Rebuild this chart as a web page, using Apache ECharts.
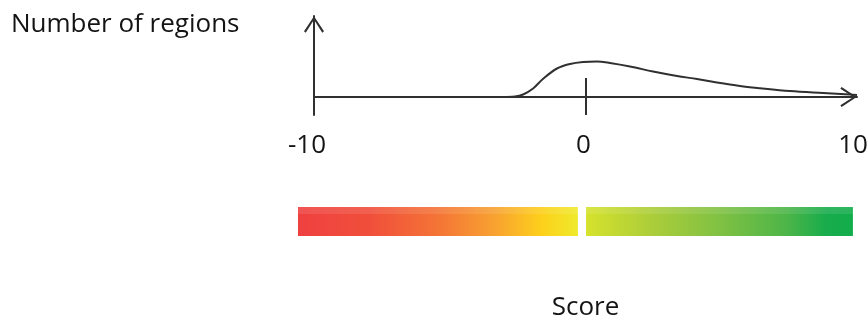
<!DOCTYPE html>
<html>
<head>
<meta charset="utf-8">
<script src="https://cdn.jsdelivr.net/npm/echarts@6/dist/echarts.min.js"></script>
<style>html,body{margin:0;padding:0;background:#fff;}#c{width:868px;height:320px;}</style>
</head>
<body>
<div id="c"></div>
<script>
// Distribution curve: score vs. relative number of regions
const curveScores = [-3.05, -2.6, -2.3, -1.93, -1.57, -1.05, -0.57, -0.09, 0.42, 0.9, 1.64, 2.49, 3.37, 4.11, 4.84, 5.69, 6.43, 7.53, 8.75, 9.74, 10];
const curveCounts = [0, 0.5, 2.5, 8.5, 18, 28.5, 33, 35, 35.5, 34, 30.5, 25.5, 21, 18, 14.5, 11, 8.8, 6, 4, 2.5, 2];
const tickLabels = ['-10', '0', '10'];
const tickLabelStyles = ['lo', 'mid', 'hi'];
// Colour scale segments: [start score, end score]
const scaleStarts = [-10.59, 0.02];
const scaleEnds = [-0.28, 9.85];
const scaleStopOffsets = [
  [0, 0.25, 0.5, 0.7, 0.87, 1],
  [0, 0.25, 0.5, 0.75, 0.9, 1]
];
const scaleStopColors = [
  ['#ef4040', '#f04e3b', '#f47436', '#f8a131', '#fdd01b', '#efea2c'],
  ['#d6e22c', '#abcd3a', '#80c143', '#4db548', '#18ac4c', '#12ad4b']
];

const AX = '#303030';
const TXT = '#141414';
const FONT = 'Open Sans';
const chevron = 'path://M0,15 L10,0 L20,15 L18.3,16.3 L10,3.4 L1.7,16.3 Z';

const curveData = curveScores.map((s, i) => [s, curveCounts[i]]);
const scaleData = scaleStarts.map((s, i) => [s, scaleEnds[i], i]);

const lblBase = {fontFamily: FONT, fontSize: 26, color: TXT, lineHeight: 26};

const chart = echarts.init(document.getElementById('c'), null, {renderer: 'canvas'});
chart.setOption({
  animation: false,
  title: {
    text: 'Number of regions', left: 11, top: 12, padding: 0,
    textStyle: {fontFamily: FONT, fontSize: 26, fontWeight: 'normal', color: TXT, lineHeight: 26}
  },
  grid: [
    {left: 314, top: 16, width: 543, height: 99, outerBoundsMode: 'none', containLabel: false},
    {left: 314, top: 207, width: 543, height: 29, outerBoundsMode: 'none', containLabel: false}
  ],
  xAxis: [{
    type: 'value', gridIndex: 0, min: -10, max: 10, interval: 10,
    name: 'Score', nameLocation: 'middle', nameGap: 180,
    nameTextStyle: {fontFamily: FONT, fontSize: 26, color: TXT, lineHeight: 26},
    axisLine: {show: true, onZero: true, symbol: ['none', chevron], symbolSize: [20, 17], symbolOffset: [0, -8.5],
      lineStyle: {color: AX, width: 2}},
    axisTick: {show: false},
    splitLine: {show: false},
    axisLabel: {fontFamily: FONT, fontSize: 26, color: TXT, margin: 18, lineHeight: 26,
      showMinLabel: true, showMaxLabel: true,
      rich: {
        lo: Object.assign({padding: [0, 14, 0, 0]}, lblBase),
        mid: Object.assign({padding: [0, 4, 0, 0]}, lblBase),
        hi: Object.assign({padding: [0, 8, 0, 0]}, lblBase)
      },
      formatter: v => {
        const i = Math.round((v + 10) / 10);
        return '{' + tickLabelStyles[i] + '|' + tickLabels[i] + '}';
      }}
  }, {
    type: 'value', gridIndex: 1, min: -10, max: 10, show: false
  }],
  yAxis: [{
    type: 'value', gridIndex: 0, min: -18, max: 81,
    axisLine: {show: true, onZero: false, symbol: ['none', chevron], symbolSize: [20, 17], symbolOffset: [0, -8.5],
      lineStyle: {color: AX, width: 2}},
    axisTick: {show: false}, axisLabel: {show: false}, splitLine: {show: false}
  }, {
    type: 'value', gridIndex: 1, min: 0, max: 1, show: false
  }],
  series: [{
    type: 'line', xAxisIndex: 0, yAxisIndex: 0, data: curveData,
    smooth: 0.35, showSymbol: false, symbol: 'none',
    lineStyle: {color: AX, width: 2}, z: 3,
    markLine: {
      silent: true, symbol: 'none', label: {show: false},
      lineStyle: {color: AX, width: 2, type: 'solid'},
      data: [[{coord: [0, -18]}, {coord: [0, 19]}]]
    }
  }, {
    type: 'custom', xAxisIndex: 1, yAxisIndex: 1, data: scaleData, clip: false,
    renderItem: function (params, api) {
      const p0 = api.coord([api.value(0), 1]);
      const p1 = api.coord([api.value(1), 0]);
      const idx = api.value(2);
      const stops = scaleStopOffsets[idx].map((o, k) => ({offset: o, color: scaleStopColors[idx][k]}));
      const w = p1[0] - p0[0], h = p1[1] - p0[1];
      return {type: 'group', children: [
        {type: 'rect', shape: {x: p0[0], y: p0[1], width: w, height: h},
          style: {fill: {type: 'linear', x: 0, y: 0, x2: 1, y2: 0, colorStops: stops}}},
        {type: 'rect', shape: {x: p0[0], y: p0[1], width: w, height: 7},
          style: {fill: 'rgba(255,255,255,0.1)'}}
      ]};
    }
  }]
});
</script>
</body>
</html>
